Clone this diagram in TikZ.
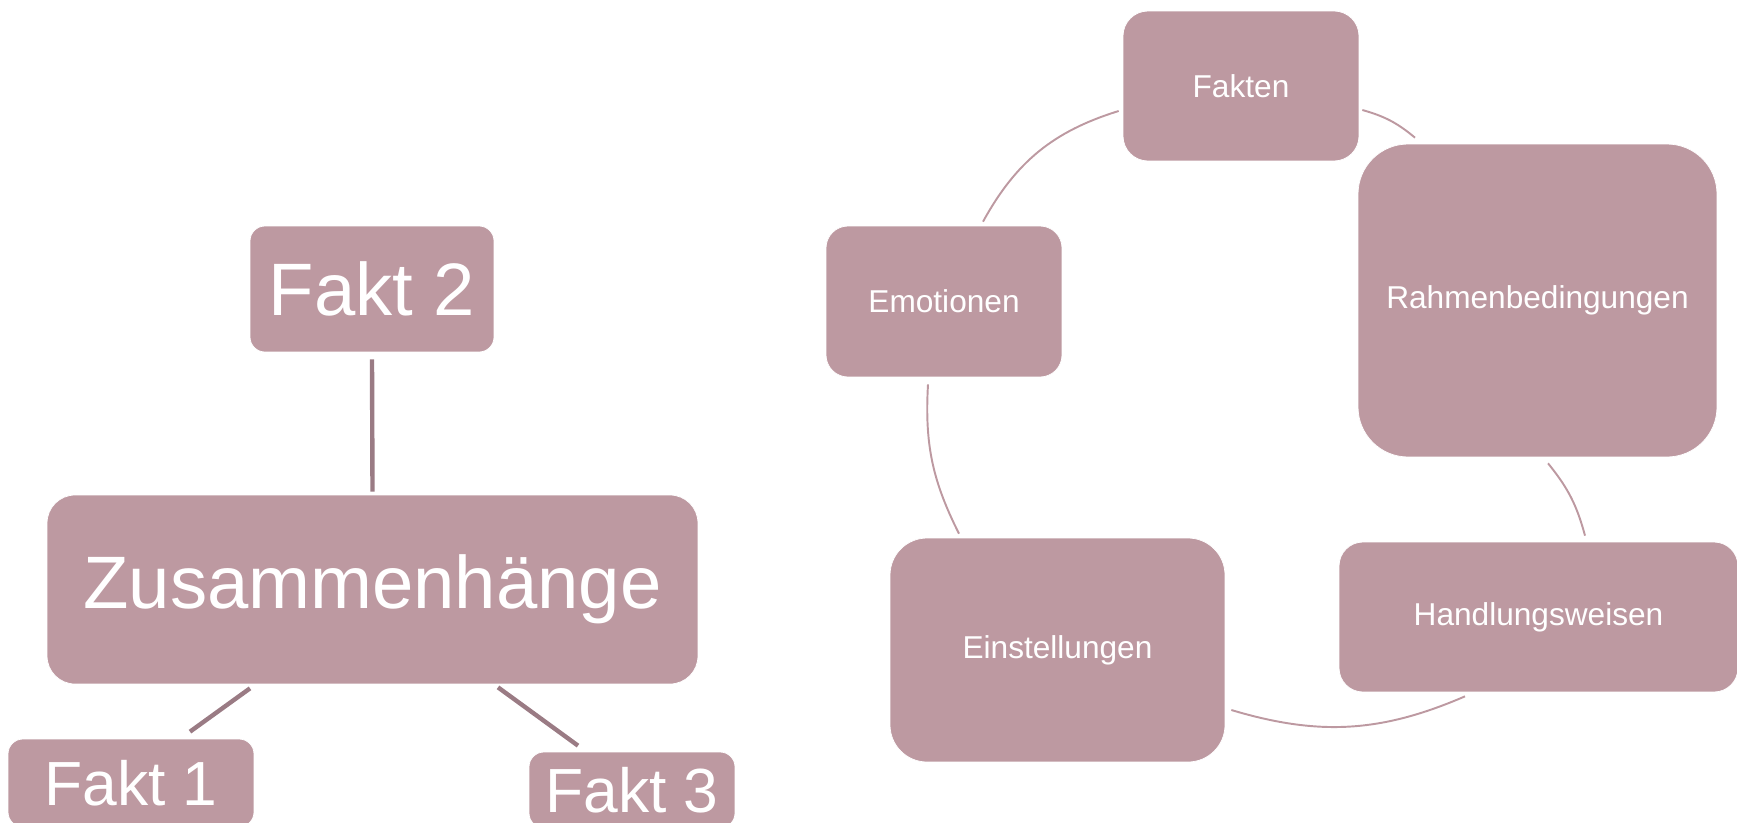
\documentclass[tikz,border=0pt]{standalone}
\usepackage{fontspec}
\setmainfont{Liberation Sans}
\usepackage{xcolor}
\usepackage{tikz}
\definecolor{mauve}{HTML}{BD99A1}
\definecolor{mauvedark}{HTML}{9A7B84}

\begin{document}
\begin{tikzpicture}[x=0.02cm,y=-0.02cm,
    box/.style={fill=mauve,draw=white,line width=0.4pt,text=white,inner sep=0pt,align=center},
    big/.style={font=\fontsize{42.3}{50}\selectfont},
    mid/.style={font=\fontsize{35.5}{42}\selectfont},
    small/.style={font=\fontsize{18}{22}\selectfont},
    stem/.style={draw=mauvedark,line width=2.5pt},
    ring/.style={draw=mauve,line width=1.1pt}]
\useasboundingbox (0,0) rectangle (1737,822);
% left part
\node[box,big,minimum width=4.88cm,minimum height=2.52cm,rounded corners=0.3cm] (fakt2) at (372,289) {Fakt 2};
\node[box,big,minimum width=13.02cm,minimum height=3.78cm,rounded corners=0.56cm] (zus) at (372.5,589.5) {Zusammenhänge};
\node[box,mid,minimum width=4.92cm,minimum height=1.76cm,rounded corners=0.3cm] (fakt1) at (131,783) {Fakt 1};
\node[box,mid,minimum width=4.12cm,minimum height=1.52cm,rounded corners=0.3cm] (fakt3) at (632,790) {Fakt 3};
\draw[stem] ([shift={(0,7)}]fakt2.south) -- ([shift={(0,-3)}]zus.north);
\draw[stem] ([shift={(-122.5,4)}]zus.south) -- ([shift={(59,-7)}]fakt1.north);
\draw[stem] ([shift={(125.5,3)}]zus.south) -- ([shift={(-54,-6)}]fakt3.north);
% right part: cycle
\node[box,small,minimum width=4.72cm,minimum height=3.0cm,rounded corners=0.5cm] (fakten) at (1241,86) {Fakten};
\node[box,small,minimum width=7.18cm,minimum height=6.26cm,rounded corners=1.0cm] (rahmen) at (1537.5,300.5) {Rahmenbedingungen};
\node[box,small,minimum width=7.98cm,minimum height=3.0cm,rounded corners=0.48cm] (handl) at (1538.5,617) {Handlungsweisen};
\node[box,small,minimum width=6.7cm,minimum height=4.48cm,rounded corners=0.74cm] (einst) at (1057.5,650) {Einstellungen};
\node[box,small,minimum width=4.72cm,minimum height=3.02cm,rounded corners=0.44cm] (emot) at (944,301.5) {Emotionen};
\draw[ring] ([shift={(-4,25)}]fakten.west) to[bend right=22] ([shift={(39,-4)}]emot.north);
\draw[ring] ([shift={(-16,7)}]emot.south) to[bend right=15] ([shift={(-98.5,-4)}]einst.north);
\draw[ring] ([shift={(6,60)}]einst.east) to[bend right=20] ([shift={(-73.5,4)}]handl.south);
\draw[ring] ([shift={(46.5,-6)}]handl.north) to[bend right=12] ([shift={(10.5,6)}]rahmen.south);
\draw[ring] ([shift={(-122.5,-6)}]rahmen.north) to[bend right=12] ([shift={(3,24)}]fakten.east);
\end{tikzpicture}
\end{document}
